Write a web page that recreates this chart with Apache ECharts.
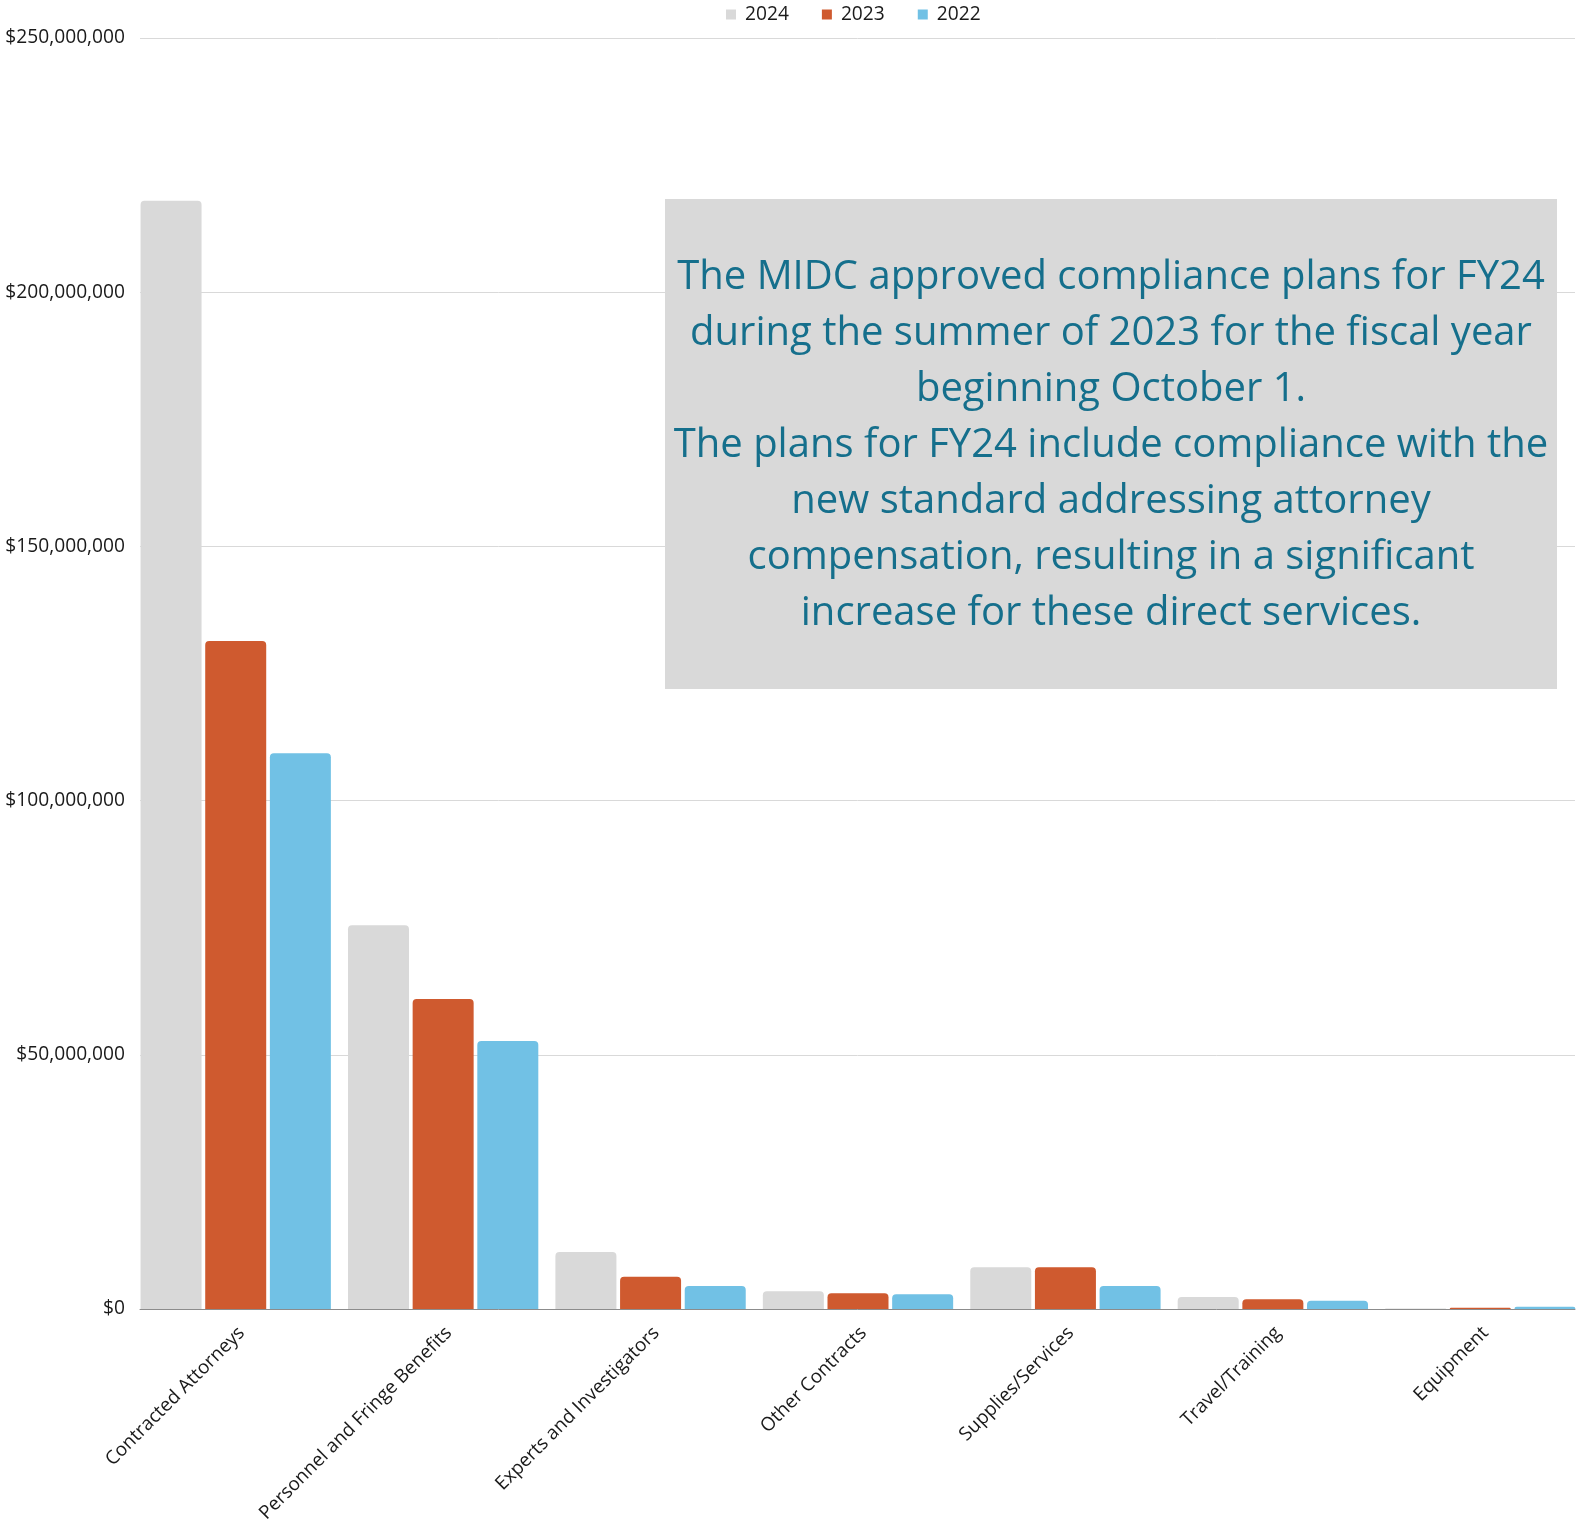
<!DOCTYPE html>
<html>
<head>
<meta charset="utf-8">
<title>MIDC compliance plans</title>
<script src="https://cdn.jsdelivr.net/npm/echarts@6/dist/echarts.min.js"></script>
<style>
  html, body { margin: 0; padding: 0; background: #fff; }
  #chart { width: 1578px; height: 1520px; }
</style>
</head>
<body>
<div id="chart"></div>
<script>
// categories and values (in dollars)
var categories = ['Contracted Attorneys', 'Personnel and Fringe Benefits', 'Experts and Investigators',
    'Other Contracts', 'Supplies/Services', 'Travel/Training', 'Equipment'];
var years = ['2024', '2023', '2022'];
var fy2024 = [218000000, 75500000, 11200000, 3500000, 8200000, 2350000, 100000];
var fy2023 = [131400000, 61000000, 6350000, 3100000, 8200000, 1900000, 250000];
var fy2022 = [109300000, 52700000, 4500000, 2900000, 4500000, 1600000, 450000];
var yTicks = [0, 50000000, 100000000, 150000000, 200000000, 250000000];

var noteLines = [
    'The MIDC approved compliance plans for FY24',
    'during the summer of 2023 for the fiscal year',
    'beginning October 1.',
    'The plans for FY24 include compliance with the',
    'new standard addressing attorney',
    'compensation, resulting in a significant',
    'increase for these direct services.'
];

var colors = ['#d9d9d9', '#cf5a2f', '#71c1e5'];
var font = '"Open Sans", "Noto Sans", sans-serif';
var labelSize = 19.2;

var chart = echarts.init(document.getElementById('chart'));

function barSeries(name, data, color) {
    return {
        name: name,
        type: 'bar',
        xAxisIndex: 1,
        yAxisIndex: 1,
        data: data,
        barWidth: 61,
        barGap: '6%',
        itemStyle: { color: color, borderRadius: [4, 4, 0, 0] }
    };
}

function hiddenY(i) {
    return {
        type: 'value', gridIndex: i,
        min: yTicks[0], max: yTicks[yTicks.length - 1],
        interval: yTicks[1] - yTicks[0],
        show: false
    };
}

var option = {
    animation: false,
    textStyle: { fontFamily: font },
    legend: {
        data: years,
        left: 721,
        top: 0,
        icon: 'rect',
        itemWidth: 10,
        itemHeight: 10,
        itemGap: 33,
        textStyle: { fontSize: labelSize, color: '#1a1a1a', fontFamily: font, padding: [0, 0, 0, 4] }
    },
    // 0: gridlines + axis line, 1: bars (groups sit flush at both ends), 2: category labels
    grid: [
        { left: 140, right: 3, top: 38, bottom: 211, outerBoundsMode: 'none' },
        { left: 132, width: 1452, top: 38, bottom: 211, outerBoundsMode: 'none' },
        { left: 138, width: 1451, top: 38, bottom: 211, outerBoundsMode: 'none' }
    ],
    xAxis: [
        {
            type: 'category', gridIndex: 0, data: categories,
            axisLine: { lineStyle: { color: '#8c8c8c', width: 1 } },
            axisTick: { show: false },
            axisLabel: { show: false }
        },
        {
            type: 'category', gridIndex: 1, data: categories,
            axisLine: { show: false }, axisTick: { show: false }, axisLabel: { show: false }
        },
        {
            type: 'category', gridIndex: 2, data: categories,
            axisLine: { show: false },
            axisTick: { show: false },
            axisLabel: { rotate: 45, fontSize: 18.9, color: '#1a1a1a', margin: 21, interval: 0, fontFamily: font }
        }
    ],
    yAxis: [
        {
            type: 'value',
            gridIndex: 0,
            min: yTicks[0],
            max: yTicks[yTicks.length - 1],
            interval: yTicks[1] - yTicks[0],
            axisLine: { show: false },
            axisTick: { show: false },
            splitLine: { lineStyle: { color: '#d9d9d9', width: 1 } },
            axisLabel: {
                fontSize: labelSize, color: '#1a1a1a', margin: 15, fontFamily: font,
                formatter: function (v) { return '$' + v.toLocaleString('en-US'); }
            }
        },
        hiddenY(1),
        hiddenY(2)
    ],
    series: [
        barSeries(years[0], fy2024, colors[0]),
        barSeries(years[1], fy2023, colors[1]),
        barSeries(years[2], fy2022, colors[2])
    ],
    // note box over the chart
    graphic: [
        {
            type: 'rect',
            shape: { x: 665, y: 199, width: 892, height: 490 },
            style: { fill: '#d9d9d9' },
            z: 100
        },
        {
            type: 'text',
            x: 1111,
            y: 446,
            z: 101,
            style: {
                text: noteLines.join('\n'),
                font: '40px ' + font,
                lineHeight: 56,
                fill: '#156f8c',
                align: 'center',
                verticalAlign: 'middle'
            }
        }
    ]
};

chart.setOption(option);
</script>
</body>
</html>
